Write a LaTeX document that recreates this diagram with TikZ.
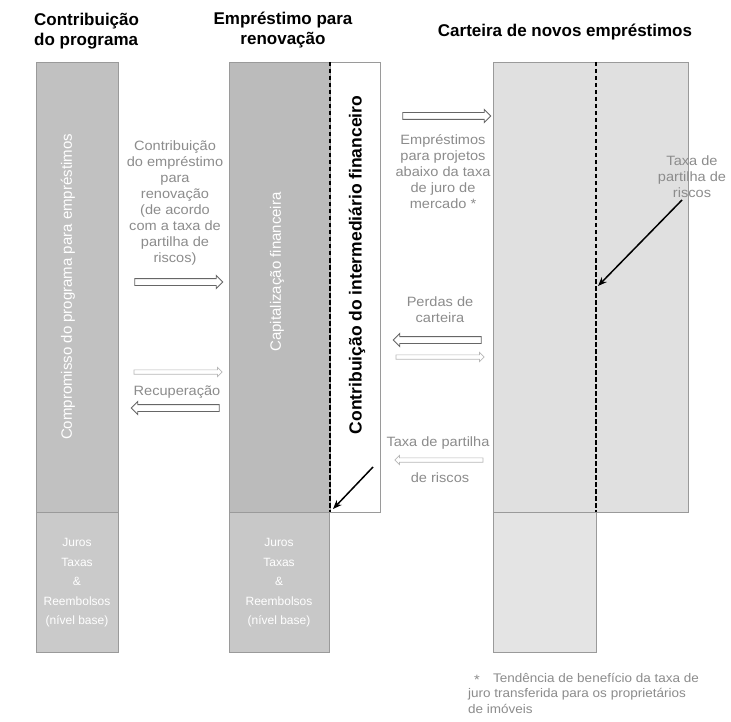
\documentclass[tikz,border=0pt]{standalone}
\usepackage{fontspec}
\setmainfont{Liberation Sans}
\newfontfamily\labfont[FakeStretch=1.08]{Liberation Sans}
\usetikzlibrary{shapes.arrows,arrows.meta}
\definecolor{gA}{HTML}{C1C1C1}
\definecolor{gAb}{HTML}{CACACA}
\definecolor{gB}{HTML}{BBBBBB}
\definecolor{gBb}{HTML}{C8C8C8}
\definecolor{gC}{HTML}{E0E0E0}
\definecolor{gCb}{HTML}{E4E4E4}
\definecolor{edge}{HTML}{9A9A9A}
\definecolor{labc}{HTML}{8C8C8C}
\definecolor{lightc}{HTML}{B8B8B8}
\begin{document}
\begin{tikzpicture}[x=1pt,y=-1pt,
  hdr/.style={font=\fontsize{17}{20}\selectfont\bfseries, text=black, inner sep=0pt},
  rottext/.style={font=\fontsize{17.5}{20}\selectfont\bfseries, text=black, inner sep=0pt, rotate=90},
  colbox/.style={draw=edge, line width=0.8pt, inner sep=0pt},
  wtext/.style={font=\fontsize{12}{19.5}\selectfont, text=white, inner sep=0pt, align=center},
  wrot/.style={font=\fontsize{15}{18}\selectfont, text=white, inner sep=0pt, rotate=90},
  lab/.style={font=\labfont\fontsize{13.5}{16}\selectfont, text=labc, inner sep=0pt, align=center},
  harrow/.style={single arrow, draw=black!60, fill=white, line width=0.9pt, minimum width=0pt,
     inner sep=3pt, single arrow head extend=3pt, single arrow head indent=0pt, minimum height=88pt},
  tarrow/.style={single arrow, draw=lightc, fill=white, line width=0.7pt, minimum width=0pt,
     inner sep=1.8pt, single arrow head extend=2.5pt, single arrow head indent=0pt, minimum height=88pt},
  dashline/.style={draw=black, line width=1.6pt, dash pattern=on 4.5pt off 2.5pt},
  blackarrow/.style={draw=black, line width=1.5pt, -{Stealth[length=9pt,width=7pt]}}
]
\useasboundingbox (0,0) rectangle (731,722);
\fill[white] (0,0) rectangle (731,722);

% headers
\node[hdr, anchor=west, align=left] (h1) at (34,31) {Contribuição\\do programa};
\node[hdr, align=center] (h2) at (283,30) {Empréstimo para\\renovação};
\node[hdr] (h3) at (565,32) {Carteira de novos empréstimos};

% left column
\node[colbox, fill=gA, minimum width=82pt, minimum height=450pt] (c1) at (77,287) {};
\node[colbox, fill=gAb, minimum width=82pt, minimum height=140pt] (c1b) at (77,582) {};
\node[wrot] (t1) at (68,287) {Compromisso do programa para empréstimos};
\node[wtext] (t1b) at (77,583) {Juros\\Taxas\\\&\\Reembolsos\\(nível base)};

% middle column
\node[colbox, fill=white, minimum width=151pt, minimum height=450pt] (c2w) at (304.5,287) {};
\node[colbox, fill=gB, minimum width=101pt, minimum height=450pt] (c2) at (279.5,287) {};
\node[colbox, fill=gBb, minimum width=100pt, minimum height=140pt] (c2b) at (279,582) {};
\node[wrot] (t2) at (277,272) {Capitalização financeira};
\node[wtext] (t2b) at (279,583) {Juros\\Taxas\\\&\\Reembolsos\\(nível base)};
\coordinate (m1) at (330,62);
\coordinate (m2) at (330,512);
\draw[dashline] (m1) -- (m2);
\node[rottext] (t3) at (357,265) {Contribuição do intermediário financeiro};

% right column
\node[colbox, fill=gC, minimum width=195pt, minimum height=450pt] (c3) at (590.5,287) {};
\node[colbox, fill=gCb, minimum width=103pt, minimum height=140pt] (c3b) at (544.5,582) {};
\coordinate (d1) at (596,62);
\coordinate (d2) at (596,512);
\draw[dashline] (d1) -- (d2);

% left-middle labels and arrows
\node[lab] (l1) at (175,203) {Contribuição\\do empréstimo\\para\\renovação\\(de acordo\\com a taxa de\\partilha de\\riscos)};
\node[harrow] (a1) at (177,282) {};
\node[tarrow] (a2) at (177,372) {};
\node[lab] (l2) at (177,392) {Recuperação};
\node[harrow, shape border rotate=180] (a3) at (177,408) {};

% right-middle labels and arrows
\node[harrow] (a4) at (445,116) {};
\node[lab] (l3) at (443,172) {Empréstimos\\para projetos\\abaixo da taxa\\de juro de\\mercado *};
\node[lab] (l4) at (440,310) {Perdas de\\carteira};
\node[harrow, shape border rotate=180] (a5) at (439,340) {};
\node[tarrow] (a6) at (439,357) {};
\node[lab] (l5) at (438,443) {Taxa de partilha};
\node[tarrow, shape border rotate=180] (a7) at (440,460) {};
\node[lab] (l6) at (440,478) {de riscos};

% right label
\node[lab] (l7) at (692,177) {Taxa de\\partilha de\\riscos};

% black arrows
\coordinate (k1) at (373,467);
\coordinate (k2) at (333,509);
\coordinate (k3) at (682,200);
\coordinate (k4) at (598,286);
\draw[blackarrow] (k1) -- (k2);
\draw[blackarrow] (k3) -- (k4);

% note
\node[lab] (st) at (477,680) {*};
\node[lab, font=\labfont\fontsize{12.5}{15.5}\selectfont, align=left, anchor=north west] (note) at (468,673) {\hspace*{25pt}Tendência de benefício da taxa de\\juro transferida para os proprietários\\de imóveis};
\end{tikzpicture}
\end{document}
